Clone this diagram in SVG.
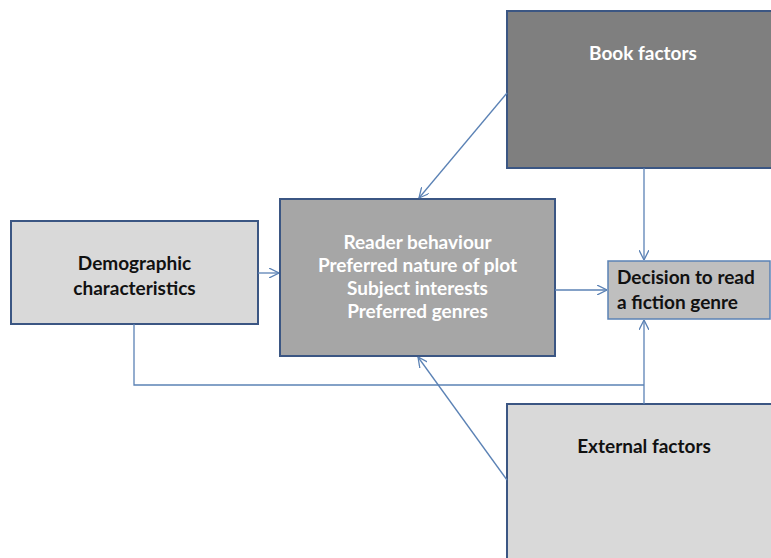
<svg xmlns="http://www.w3.org/2000/svg" width="771" height="558" viewBox="0 0 771 558">
<style>
.t{font-family:Lato,"Liberation Sans",sans-serif;font-weight:bold;font-size:19px}
.w{fill:#ffffff}
.k{fill:#111111}
.box{stroke:#3b5683;stroke-width:2}
.c{fill:none;stroke:#5b82b5;stroke-width:1.3}
</style>
<defs>
<marker id="a" viewBox="0 0 10 10" refX="10" refY="5" markerWidth="10" markerHeight="10" markerUnits="userSpaceOnUse" orient="auto">
<path d="M0,0 L10,5 L0,10" fill="none" stroke="#5b82b5" stroke-width="1.3"/>
</marker>
</defs>
<rect width="771" height="558" fill="#ffffff"/>
<g id="book">
<rect class="box" x="507" y="11" width="270" height="157" fill="#7f7f7f"/>
<text class="t w" x="643" y="60" text-anchor="middle">Book factors</text>
</g>
<g id="demographic">
<rect class="box" x="11" y="221" width="247" height="103" fill="#d9d9d9"/>
<text class="t k" x="134.5" y="270" text-anchor="middle">Demographic</text>
<text class="t k" x="134.5" y="295" text-anchor="middle">characteristics</text>
</g>
<g id="reader">
<rect class="box" x="280" y="199" width="275" height="157" fill="#a6a6a6"/>
<text class="t w" x="417.5" y="249" text-anchor="middle">Reader behaviour</text>
<text class="t w" x="417.5" y="272" text-anchor="middle">Preferred nature of plot</text>
<text class="t w" x="417.5" y="295" text-anchor="middle">Subject interests</text>
<text class="t w" x="417.5" y="318" text-anchor="middle">Preferred genres</text>
</g>
<g id="decision">
<rect x="608" y="261" width="162" height="58" fill="#bfbfbf" stroke="#5b82b5" stroke-width="1.5"/>
<text class="t k" x="617" y="284">Decision to read</text>
<text class="t k" x="617" y="309">a fiction genre</text>
</g>
<g id="external">
<rect class="box" x="507" y="404" width="270" height="160" fill="#d9d9d9"/>
<text class="t k" x="644" y="453" text-anchor="middle">External factors</text>
</g>
<g id="connectors">
<line class="c" x1="258" y1="273" x2="279" y2="273" marker-end="url(#a)"/>
<line class="c" x1="555" y1="290" x2="607" y2="290" marker-end="url(#a)"/>
<line class="c" x1="644" y1="168" x2="644" y2="260" marker-end="url(#a)"/>
<line class="c" x1="644" y1="404" x2="644" y2="320" marker-end="url(#a)"/>
<polyline class="c" points="134,324 134,385 644,385"/>
<line class="c" x1="507" y1="93" x2="419" y2="198" marker-end="url(#a)"/>
<line class="c" x1="507" y1="480" x2="418" y2="357" marker-end="url(#a)"/>
</g>
</svg>
